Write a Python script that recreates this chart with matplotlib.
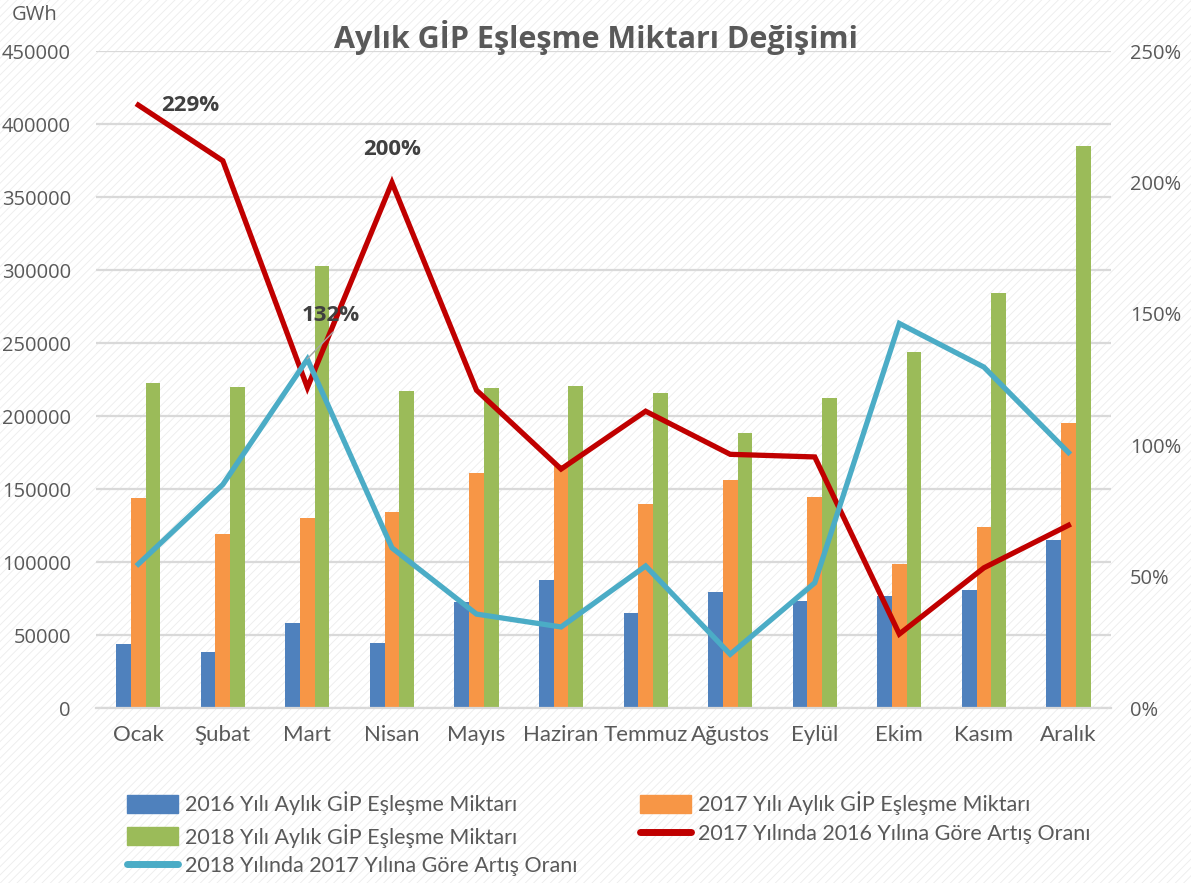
import matplotlib
matplotlib.use("Agg")
import matplotlib.pyplot as plt
import numpy as np
from matplotlib.patches import Rectangle, Patch
from matplotlib.lines import Line2D

# veriler
aylar = ["Ocak", "Şubat", "Mart", "Nisan", "Mayıs", "Haziran", "Temmuz",
         "Ağustos", "Eylül", "Ekim", "Kasım", "Aralık"]
gip_2016 = [43800, 38400, 58400, 44700, 72600, 87700, 65500, 79500, 73500, 76900, 80800, 114900]
gip_2017 = [144000, 119000, 130100, 134700, 161200, 166400, 139700, 156600, 144500, 98800, 124000, 195000]
gip_2018 = [222800, 220100, 303000, 217100, 219200, 220800, 215800, 188600, 212500, 244000, 284200, 384900]
artis_17_16 = [229.5, 208.3, 122.0, 200.0, 121.0, 91.0, 113.0, 96.6, 95.6, 28.2, 53.4, 69.6]
artis_18_17 = [54.8, 85.1, 132.8, 61.0, 35.8, 30.9, 54.1, 20.5, 47.7, 146.4, 129.8, 97.3]
etiketler = {0: "229%", 3: "200%", 2: "132%"}

mavi, turuncu, yesil = "#4F81BD", "#F79646", "#9BBB59"
kirmizi, camgobegi = "#C00000", "#4BACC6"
gri = "#595959"
dar = ['Lato', 'DejaVu Sans']

plt.rcParams['font.family'] = ['Open Sans', 'DejaVu Sans']
plt.rcParams['hatch.linewidth'] = 0.6
plt.rcParams['hatch.color'] = '#ececec'

fig = plt.figure(figsize=(11.91, 8.83), dpi=100)
fig.patches.append(Rectangle((0, 0), 1, 1, transform=fig.transFigure, facecolor='white',
                             edgecolor='#ececec', hatch='////', lw=0, zorder=-10))

ax = fig.add_axes([0.0806, 0.198, 0.852, 0.744])
ax.set_facecolor('none')
x = np.arange(len(aylar))
w = 0.174
ax.bar(x - w, gip_2016, w, color=mavi, zorder=2)
ax.bar(x, gip_2017, w, color=turuncu, zorder=2)
ax.bar(x + w, gip_2018, w, color=yesil, zorder=2)
ax.set_xlim(-0.5, 11.5)
ax.set_ylim(0, 450000)
ax.set_yticks(np.arange(0, 450001, 50000))
ax.yaxis.grid(True, color='#d9d9d9', lw=1.6, zorder=0)
ax.set_axisbelow(True)
for s in ['top', 'left', 'right']:
    ax.spines[s].set_visible(False)
ax.spines['bottom'].set_color('#d9d9d9')
ax.spines['bottom'].set_linewidth(1.6)
ax.tick_params(length=0, labelsize=14.5, labelcolor=gri, pad=18)
ax.tick_params(axis='x', pad=12)
ax.set_xticks(x)
ax.set_xticklabels(aylar, family=dar, fontsize=16)

ax2 = ax.twinx()
ax2.plot(x, artis_17_16, color=kirmizi, lw=3.8, solid_joinstyle='miter', zorder=3)
ax2.plot(x, artis_18_17, color=camgobegi, lw=3.8, solid_joinstyle='miter', zorder=4)
ax2.set_ylim(0, 250)
ax2.set_yticks(np.arange(0, 251, 50))
ax2.set_yticklabels([f"{v}%" for v in range(0, 251, 50)])
ax2.tick_params(length=0, labelsize=14.5, labelcolor=gri, pad=14)
for s in ax2.spines.values():
    s.set_visible(False)

# veri etiketleri
ax2.text(0.27, 229.5, etiketler[0], fontsize=16, fontweight='bold', color='#404040', va='center')
ax2.text(3.0, 212.5, etiketler[3], fontsize=16, fontweight='bold', color='#404040', ha='center', va='center')
ax2.text(2.28, 149.5, etiketler[2], fontsize=16, fontweight='bold', color='#404040', ha='center', va='center')
ax2.plot([2.0, 2.3], [133, 143], color='#a6a6a6', lw=1, zorder=5)

fig.text(0.5, 0.958, "Aylık GİP Eşleşme Miktarı Değişimi", ha='center', va='center',
         fontsize=22, fontweight='bold', color=gri)
fig.text(0.01, 0.983, "GWh", fontsize=14.5, color=gri, va='center')

tutamaclar = [
    Patch(color=mavi), Patch(color=yesil),
    Line2D([], [], color=camgobegi, lw=5, solid_capstyle='round'),
    Patch(color=turuncu), Line2D([], [], color=kirmizi, lw=5, solid_capstyle='round'),
]
adlar = ["2016 Yılı Aylık GİP Eşleşme Miktarı", "2018 Yılı Aylık GİP Eşleşme Miktarı",
         "2018 Yılında 2017 Yılına Göre Artış Oranı",
         "2017 Yılı Aylık GİP Eşleşme Miktarı", "2017 Yılında 2016 Yılına Göre Artış Oranı"]
leg = fig.legend(tutamaclar, adlar, ncol=2, loc='upper left', bbox_to_anchor=(0.099, 0.1137),
                 borderaxespad=0, frameon=False, handlelength=2.4, handleheight=0.9,
                 handletextpad=0.3, columnspacing=2.9, labelspacing=0.4,
                 prop={'family': dar, 'size': 15.5})
for t in leg.get_texts():
    t.set_color(gri)

fig.savefig("out.png", dpi=100)
